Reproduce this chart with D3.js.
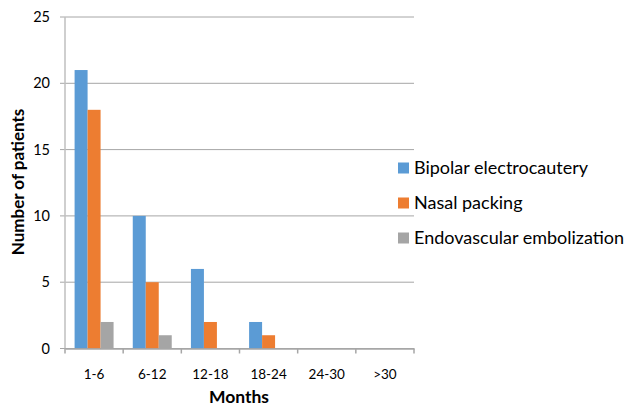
<!DOCTYPE html>
<html>
<head>
<meta charset="utf-8">
<script src="https://cdn.jsdelivr.net/npm/d3@7"></script>
<style>
  body { margin: 0; background: #fff; }
  text { font-family: Lato, "Open Sans", sans-serif; fill: #000; }
</style>
</head>
<body>
<svg id="chart" width="628" height="406"></svg>
<script>
var categories = ['1-6', '6-12', '12-18', '18-24', '24-30', '>30'];
var seriesNames = ['Bipolar electrocautery', 'Nasal packing', 'Endovascular embolization'];
var bipolar = [21, 10, 6, 2, 0, 0];
var nasal = [18, 5, 2, 1, 0, 0];
var endovascular = [2, 1, 0, 0, 0, 0];
var yTicks = [0, 5, 10, 15, 20, 25];
var colors = ['#5b9bd5', '#ed7d31', '#a5a5a5'];

var series = [bipolar, nasal, endovascular];

var svg = d3.select('#chart');

var x = d3.scaleBand()
    .domain(categories)
    .range([65, 414])
    .paddingInner(0.33)
    .paddingOuter(0.165);

var xBand = d3.scaleBand()
    .domain(categories)
    .range([65, 414]);

var xSub = d3.scaleBand()
    .domain(d3.range(series.length))
    .range([0, x.bandwidth()]);

var y = d3.scaleLinear()
    .domain([0, 25])
    .range([348.5, 17]);

// gridlines
svg.append('g')
    .selectAll('line')
    .data(yTicks)
    .join('line')
    .attr('x1', 60)
    .attr('x2', 414)
    .attr('y1', function(d) { return y(d); })
    .attr('y2', function(d) { return y(d); })
    .attr('stroke', '#a6a6a6')
    .attr('stroke-width', 1);

// y axis line
svg.append('line')
    .attr('x1', 65).attr('x2', 65)
    .attr('y1', y(25)).attr('y2', y(0))
    .attr('stroke', '#bfbfbf')
    .attr('stroke-width', 1.5);

// y tick labels
var yAxis = d3.axisLeft(y).tickValues(yTicks).tickSize(0).tickPadding(15);
var yg = svg.append('g')
    .attr('transform', 'translate(65,0)')
    .call(yAxis);
yg.select('.domain').remove();
yg.selectAll('text').attr('font-size', 14.5).attr('font-family', 'Lato, sans-serif');

// bars
series.forEach(function(vals, i) {
    svg.append('g')
        .selectAll('rect')
        .data(vals)
        .join('rect')
        .attr('x', function(d, j) { return x(categories[j]) + xSub(i); })
        .attr('y', function(d) { return y(d); })
        .attr('width', xSub.bandwidth())
        .attr('height', function(d) { return y(0) - y(d); })
        .attr('fill', colors[i]);
});

// x axis
var xAxis = d3.axisBottom(xBand).tickSize(0).tickPadding(21);
var xg = svg.append('g')
    .attr('transform', 'translate(0,' + y(0) + ')')
    .call(xAxis);
xg.select('.domain').attr('stroke', '#a6a6a6').attr('stroke-width', 1.5);
xg.selectAll('text').attr('font-size', 13.5).attr('font-family', 'Lato, sans-serif');

// x ticks at band boundaries
var bounds = categories.map(function(c) { return xBand(c); }).concat([414]);
svg.append('g')
    .selectAll('line')
    .data(bounds)
    .join('line')
    .attr('x1', function(d) { return d; })
    .attr('x2', function(d) { return d; })
    .attr('y1', y(0))
    .attr('y2', y(0) + 5)
    .attr('stroke', '#a6a6a6')
    .attr('stroke-width', 1.5);

// axis titles
svg.append('text')
    .attr('x', 239)
    .attr('y', 403)
    .attr('text-anchor', 'middle')
    .attr('font-size', 17.5)
    .attr('font-weight', 'bold')
    .text('Months');

svg.append('text')
    .attr('transform', 'translate(24,182) rotate(-90)')
    .attr('text-anchor', 'middle')
    .attr('font-size', 17)
    .attr('font-weight', 'bold')
    .text('Number of patients');

// legend
var legendY = [168, 203, 238];
var legend = svg.append('g')
    .selectAll('g')
    .data(seriesNames)
    .join('g')
    .attr('transform', function(d, i) { return 'translate(398,' + legendY[i] + ')'; });

legend.append('rect')
    .attr('x', 0)
    .attr('y', -5.5)
    .attr('width', 11)
    .attr('height', 11)
    .attr('fill', function(d, i) { return colors[i]; });

legend.append('text')
    .attr('x', 16)
    .attr('y', 0)
    .attr('dy', '0.36em')
    .attr('font-size', 18)
    .text(function(d) { return d; });
</script>
</body>
</html>
